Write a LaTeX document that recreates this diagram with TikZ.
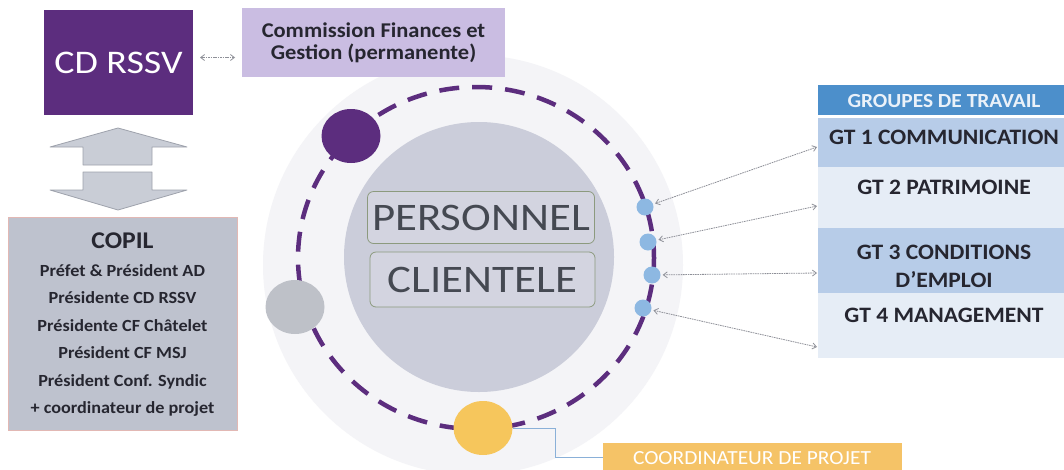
\documentclass[tikz,border=0pt]{standalone}
\usepackage{fontspec}
\setmainfont{Carlito}
\newfontfamily\widefont[FakeStretch=1.15]{Carlito}
\newfontfamily\wideb[FakeStretch=1.07]{Carlito}
\usetikzlibrary{arrows.meta,calc,shapes.geometric}
\definecolor{purp}{HTML}{5C2D7E}
\definecolor{lav}{HTML}{CABDE2}
\definecolor{copilc}{HTML}{BEC2CE}
\definecolor{copilb}{HTML}{E2B8B4}
\definecolor{arrowgrey}{HTML}{C9CDD6}
\definecolor{arrowline}{HTML}{9EA2AC}
\definecolor{pale}{HTML}{F4F4F7}
\definecolor{innerc}{HTML}{CBCDDA}
\definecolor{dotgrey}{HTML}{BEC1C8}
\definecolor{yel}{HTML}{F6C65C}
\definecolor{bluedot}{HTML}{8DB8E2}
\definecolor{hdr}{HTML}{4C8FCB}
\definecolor{gtdark}{HTML}{B7CCE8}
\definecolor{gtlight}{HTML}{E6EDF6}
\definecolor{txt}{HTML}{262630}
\definecolor{boxtxt}{HTML}{454952}
\definecolor{boxline}{HTML}{8C9A7E}
\definecolor{coordc}{HTML}{F5C367}
\definecolor{conn}{HTML}{8AB0D8}
\definecolor{dotarrow}{HTML}{8E9098}
\begin{document}
\begin{tikzpicture}[x=1pt,y=-1pt,
  rectbox/.style={inner sep=0pt, outer sep=0pt, anchor=north west},
  gtbox/.style={rectbox, minimum width=246pt},
  gttext/.style={font=\wideb\bfseries\fontsize{22}{26}\selectfont, text=txt, align=center},
  copiltext/.style={font=\wideb\bfseries\fontsize{17}{27.5}\selectfont, text=txt, align=center},
  centerbox/.style={draw=boxline, line width=0.8pt, fill=innerc!85!white, rounded corners=6pt,
     minimum width=227pt, minimum height=52pt, inner sep=0pt, text=boxtxt,
     font=\widefont\fontsize{39}{42}\selectfont},
  bdot/.style={circle, fill=bluedot, minimum size=17pt, inner sep=0pt},
  bigdot/.style={ellipse, minimum width=59pt, minimum height=54pt, inner sep=0pt},
  dotarrowstyle/.style={draw=dotarrow, line width=0.8pt, dash pattern=on 1.6pt off 0.8pt,
     {Straight Barb[length=4pt,width=6pt]}-{Straight Barb[length=4pt,width=6pt]}},
  bigarrow/.style={fill=arrowgrey, draw=arrowline, line width=0.8pt, line join=round}
]
\useasboundingbox[fill=white] (0,0) rectangle (1064,469);

% ---- central circles
\fill[pale] (473,265) circle[radius=210pt];
\fill[innerc] (479,257) circle[radius=135pt];
\draw[purp, line width=4.5pt, dash pattern=on 20pt off 13pt, dash phase=6pt]
  (476,258) ellipse[x radius=178pt, y radius=171pt];

\node[bigdot, fill=purp] (pdot) at (351,136) {};
\node[bigdot, fill=dotgrey] (gdot) at (295,307) {};
\node[bigdot, fill=yel] (ydot) at (483,428) {};

\node[bdot] (b1) at (645,207) {};
\node[bdot] (b2) at (648,242) {};
\node[bdot] (b3) at (652,275) {};
\node[bdot] (b4) at (643,308) {};

\node[centerbox] (pers) at (481,217.5) {PERSONNEL};
\node[centerbox, minimum width=225pt, minimum height=55pt] (clie) at (482.5,279.5) {CLIENTELE};

% ---- top-left
\node[rectbox, fill=purp, minimum width=149pt, minimum height=105pt] (cd) at (44,10) {};
\node[text=white, font=\widefont\fontsize{33}{36}\selectfont] (cdt) at (cd.center) {CD RSSV};

\node[rectbox, fill=lav, minimum width=263pt, minimum height=69pt] (comm) at (242,8) {};
\node[font=\wideb\bfseries\fontsize{21}{22.5}\selectfont, text=txt, align=center] (commt) at (373.5,43)
  {Commission Finances et\\Gestion (permanente)};

\draw[dotarrowstyle, shorten <=7pt, shorten >=7pt] ($(cd.east)+(0,-5)$) -- ($(comm.west |- cd.east)+(0,-5)$);

% ---- big grey arrows
\draw[bigarrow] (118,128) -- (187,147) -- (152,147) -- (152,165) -- (83,165) -- (83,147) -- (50,147) -- cycle;
\draw[bigarrow] (83,172) -- (152,172) -- (152,190) -- (187,190) -- (118,210) -- (50,190) -- (83,190) -- cycle;

% ---- COPIL
\node[rectbox, fill=copilc, draw=copilb, line width=0.6pt, minimum width=229pt, minimum height=213pt] (copil) at (8,217) {};
\node[font=\wideb\bfseries\fontsize{24}{26}\selectfont, text=txt] (copilt) at (122.5,241) {COPIL};
\node[copiltext, anchor=north] (copilbody) at (122.5,261)
  {Préfet \& Président AD\\Présidente CD RSSV\\Présidente CF Châtelet\\Président CF MSJ\\Président Conf. Syndic\\+ coordinateur de projet};

% ---- groupes de travail
\node[gtbox, fill=hdr, minimum height=30pt] (hdr) at (818,85) {};
\node[font=\wideb\bfseries\fontsize{20}{22}\selectfont, text=white!88!hdr] (hdrt) at (944,101) {GROUPES DE TRAVAIL};
\node[gtbox, fill=gtdark, minimum height=49pt] (gt1) at (818,118) {};
\node[gtbox, fill=gtlight, minimum height=61pt] (gt2) at (818,167) {};
\node[gtbox, fill=gtdark, minimum height=65pt] (gt3) at (818,228) {};
\node[gtbox, fill=gtlight, minimum height=65pt] (gt4) at (818,293) {};
\node[gttext] (gt1t) at (944,137) {GT 1 COMMUNICATION};
\node[gttext] (gt2t) at (944,187) {GT 2 PATRIMOINE};
\node[gttext, font=\wideb\bfseries\fontsize{22}{28}\selectfont] (gt3t) at (944,266) {GT 3 CONDITIONS\\D’EMPLOI};
\node[gttext] (gt4t) at (944,315) {GT 4 MANAGEMENT};

\coordinate (a1) at (817,147);
\coordinate (a2) at (817,206);
\coordinate (a3) at (817,273);
\coordinate (a4) at (817,347);
\draw[dotarrowstyle, shorten <=2pt] (b1) -- (a1);
\draw[dotarrowstyle, shorten <=2pt] (b2) -- (a2);
\draw[dotarrowstyle, shorten <=2pt] (b3) -- (a3);
\draw[dotarrowstyle, shorten <=2pt] (b4) -- (a4);

% ---- coordinateur
\node[rectbox, fill=coordc, minimum width=299pt, minimum height=28pt] (coord) at (603,443) {};
\node[inner sep=0pt, text=white, font=\wideb\fontsize{20}{21}\selectfont] (coordt) at (752,458) {COORDINATEUR DE PROJET};
\draw[conn, line width=0.9pt] (ydot.east) -- ++(43pt,0) |- ($(coord.north west)+(0,14)$);
\end{tikzpicture}
\end{document}
